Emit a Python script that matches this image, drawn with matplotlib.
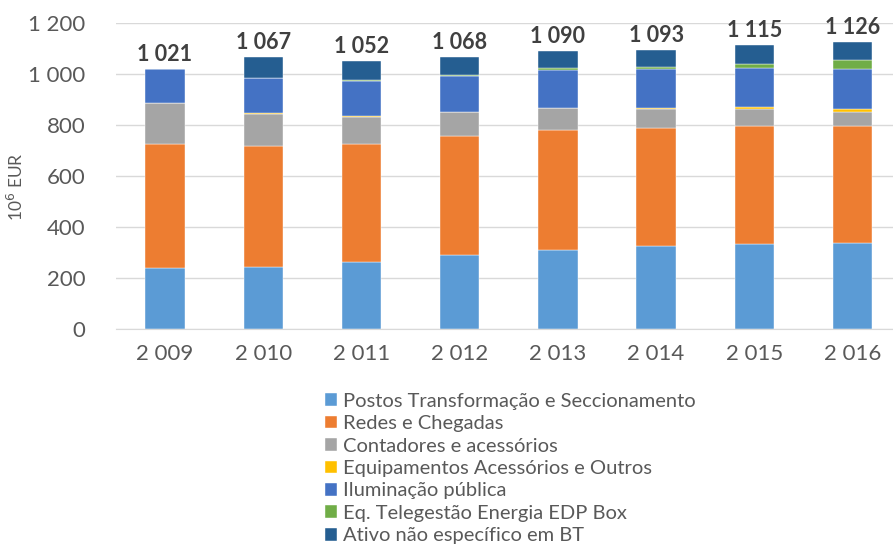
import matplotlib.pyplot as plt
import numpy as np

# data (10^6 EUR)
years = ['2 009', '2 010', '2 011', '2 012', '2 013', '2 014', '2 015', '2 016']
postos = [240, 242, 261, 290, 311, 324, 333, 337]
redes = [486, 477, 463, 466, 471, 463, 462, 458]
contadores = [160, 124, 107, 96, 85, 74, 66, 57]
equipamentos = [1, 5, 6, 1, 1, 7, 11, 11]
iluminacao = [134, 136, 136, 140, 149, 150, 152, 155]
edp_box = [0, 1, 3, 5, 5, 10, 17, 38]
ativo_bt = [0, 82, 76, 70, 68, 65, 74, 70]
totals = ['1 021', '1 067', '1 052', '1 068', '1 090', '1 093', '1 115', '1 126']

series = [
    ('Postos Transformação e Seccionamento', postos, '#5B9BD5'),
    ('Redes e Chegadas', redes, '#ED7D31'),
    ('Contadores e acessórios', contadores, '#A5A5A5'),
    ('Equipamentos Acessórios e Outros', equipamentos, '#FFC000'),
    ('Iluminação pública', iluminacao, '#4472C4'),
    ('Eq. Telegestão Energia EDP Box', edp_box, '#70AD47'),
    ('Ativo não específico em BT', ativo_bt, '#255E91'),
]

plt.rcParams['font.family'] = ['Lato', 'DejaVu Sans']

fig = plt.figure(figsize=(8.93, 5.5), dpi=100)
ax = fig.add_axes([0.1297, 0.402, 0.880, 0.556])

x = np.arange(len(years))
bottom = np.zeros(len(years))
for name, vals, col in series:
    ax.bar(x, vals, 0.4, bottom=bottom, color=col, label=name,
           edgecolor='white', linewidth=0.3)
    bottom += np.array(vals)

# total labels on top of each bar
for xi, top, lab in zip(x, bottom, totals):
    ax.annotate(lab, (xi, top), xytext=(0, 3), textcoords='offset points',
                ha='center', va='bottom', fontsize=15.5, fontweight='bold',
                color='#404040')

ax.set_xlim(-0.5, len(years) - 0.5)
ax.set_ylim(0, 1200)
ax.set_yticks(range(0, 1201, 200))
ax.set_yticklabels(['0', '200', '400', '600', '800', '1 000', '1 200'])
ax.set_xticks(x)
ax.set_xticklabels(years)
ax.tick_params(length=0, labelsize=16, colors='#595959')
ax.tick_params(axis='x', pad=11)
ax.tick_params(axis='y', pad=22)
ax.grid(axis='y', color='#D9D9D9', linewidth=1)
ax.set_axisbelow(True)
for s in ['top', 'right', 'left']:
    ax.spines[s].set_visible(False)
ax.spines['bottom'].set_color('#D9D9D9')

fig.text(0.018, 0.66, '10$^6$ EUR', rotation=90, ha='center', va='center',
         fontsize=12.5, color='#595959')

fig.legend(loc='upper left', bbox_to_anchor=(0.364, 0.286), frameon=False,
           fontsize=14.5, labelcolor='#595959', handlelength=0.6,
           handleheight=0.6, handletextpad=0.3, labelspacing=0.27,
           borderaxespad=0, borderpad=0)

fig.savefig('out.png', dpi=100)
